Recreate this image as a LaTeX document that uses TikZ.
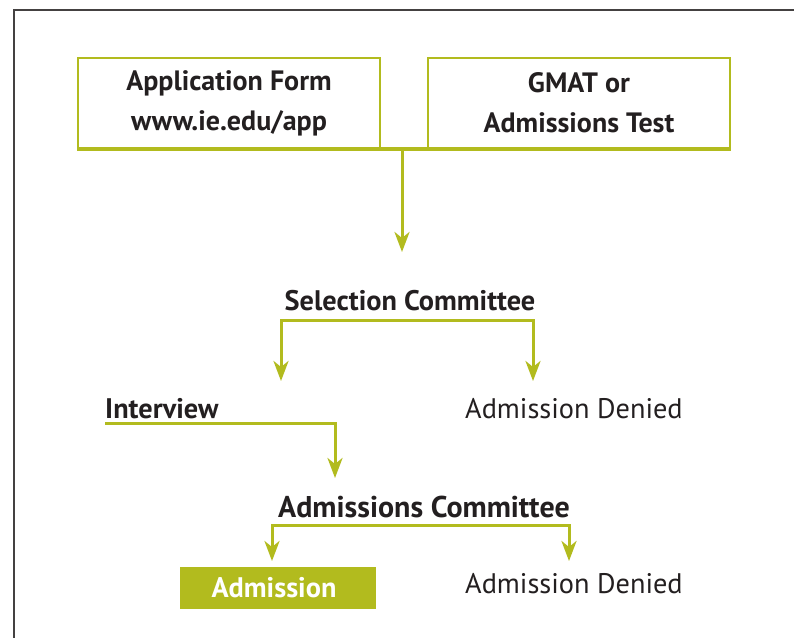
\documentclass[tikz,border=0pt]{standalone}
\usepackage{fontspec}
\setmainfont{PT Sans}
\usetikzlibrary{arrows.meta}
\definecolor{ieg}{HTML}{B2BB1E}
\definecolor{ink}{HTML}{231F20}
\tikzset{
  conn/.style={draw=ieg, line width=3pt},
  arr/.style={conn, -{Stealth[length=20pt,width=15pt,inset=6pt]}},
  topbox/.style={draw=ieg, line width=1.2pt, minimum width=302pt, minimum height=90pt, align=center, font=\bfseries\fontsize{28}{40}\selectfont, text=ink, inner sep=0pt},
  bold/.style={font=\bfseries\fontsize{28.3}{32}\selectfont, text=ink, inner sep=0pt},
  reg/.style={font=\fontsize{28.3}{32}\selectfont, text=ink, inner sep=0pt},
}
\begin{document}
\begin{tikzpicture}[x=1pt,y=-1pt]
\useasboundingbox (0,0) rectangle (794,637);
\fill[white] (0,0) rectangle (794,637);
\draw[draw=ink!85, line width=1.6pt] (14,640) -- (14,10) -- (800,10);
\node[topbox] (app) at (229,103) {Application Form\\www.ie.edu/app};
\node[topbox] (gmat) at (579,103) {GMAT or\\Admissions Test};
\draw[draw=ieg, line width=4pt] (app.south west) -- (gmat.south east);
\coordinate (j) at (402,148);
\coordinate (t1) at (402,252);
\draw[arr] (j) -- (t1);
\node[bold] (sel) at (410,301) {Selection Committee};
\coordinate (sb) at (407,320);
\coordinate (aL) at (281,381);
\coordinate (aR) at (533,381);
\draw[arr] (sb) -| (aL);
\draw[arr] (sb) -| (aR);
\node[bold, anchor=west] (int) at (105,409) {Interview};
\node[reg, anchor=west] (den1) at (465,409) {Admission Denied};
\coordinate (ib) at (105,423);
\coordinate (t2) at (335,478);
\draw[arr] (ib) -| (t2);
\node[bold, font=\bfseries\fontsize{30}{32}\selectfont] (adc) at (424,507) {Admissions Committee};
\coordinate (cb) at (420,525);
\coordinate (bL) at (272,561);
\coordinate (bR) at (569,561);
\draw[arr] (cb) -| (bL);
\draw[arr] (cb) -| (bR);
\node[fill=ieg, minimum width=196pt, minimum height=42pt, inner sep=0pt, font=\bfseries\fontsize{28.3}{32}\selectfont, text=white] (adm) at (278,588) {\hspace*{-8pt}Admission};
\node[reg, anchor=west] (den2) at (465,584) {Admission Denied};
\end{tikzpicture}
\end{document}
